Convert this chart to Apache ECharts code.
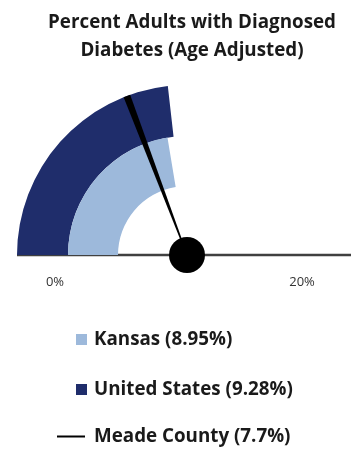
<!DOCTYPE html>
<html>
<head>
<meta charset="utf-8">
<script src="https://cdn.jsdelivr.net/npm/echarts@6/dist/echarts.min.js"></script>
<style>
html,body{margin:0;padding:0;background:#fff;}
#chart{width:351px;height:449px;}
</style>
</head>
<body>
<div id="chart"></div>
<script>
// ---- data ----
const titleLines = ['Percent Adults with Diagnosed', 'Diabetes (Age Adjusted)'];
const scaleMin = 0;
const scaleMax = 20;
const tickLabels = ['0%', '20%'];
const barNames = ['Kansas', 'United States'];
const barValues = [8.95, 9.28];
const barColors = ['#9DB9DB', '#1F2D6B'];
const needleName = 'Meade County';
const needleValue = 7.7;

const FONT = '"Open Sans", Lato, sans-serif';
const label = (n, v) => n + ' (' + v + '%)';

const chart = echarts.init(document.getElementById('chart'), null, {renderer: 'canvas'});

const center = [187, 255];
const hiddenGauge = {
  type: 'gauge', center: center, startAngle: 180, endAngle: 0,
  min: scaleMin, max: scaleMax,
  axisLine: {show: false}, axisTick: {show: false}, splitLine: {show: false},
  axisLabel: {show: false}, title: {show: false}, detail: {show: false},
  animation: false
};

const option = {
  animation: false,
  title: {
    text: titleLines.join('\n'),
    left: 187, top: 3, textAlign: 'center',
    textStyle: {fontFamily: FONT, fontSize: 18.8, fontWeight: 'bold', color: '#1a1a1a', lineHeight: 28.5}
  },
  grid: {left: 55, right: 49, top: 270, height: 1},
  xAxis: {
    type: 'value', min: scaleMin, max: scaleMax, interval: scaleMax - scaleMin,
    axisLine: {show: false}, axisTick: {show: false}, splitLine: {show: false},
    axisLabel: {
      margin: 5, fontFamily: FONT, fontSize: 13, color: '#333',
      formatter: v => tickLabels[v === scaleMin ? 0 : 1]
    }
  },
  yAxis: {type: 'value', show: false},
  legend: [
    {
      orient: 'vertical', left: 76, top: 330, padding: 0, itemWidth: 11, itemHeight: 11, itemGap: 31,
      selectedMode: false,
      textStyle: {fontFamily: FONT, fontSize: 18.8, fontWeight: 'bold', color: '#1a1a1a', padding: [0, 0, 0, 2]},
      data: barNames.map((n, i) => ({name: label(n, barValues[i]), icon: 'rect', itemStyle: {color: barColors[i]}}))
    },
    {
      orient: 'vertical', left: 57, top: 427, padding: 0, itemWidth: 28, itemHeight: 2,
      selectedMode: false,
      textStyle: {fontFamily: FONT, fontSize: 18.8, fontWeight: 'bold', color: '#1a1a1a', padding: [0, 0, 0, 4]},
      data: [{name: label(needleName, needleValue), icon: 'rect', itemStyle: {color: '#000'}}]
    }
  ],
  graphic: [{
    type: 'line', z: 1,
    shape: {x1: 17, y1: 255, x2: 351, y2: 255},
    style: {stroke: '#404040', lineWidth: 2.5}
  }],
  series: [
    Object.assign({}, hiddenGauge, {
      name: label(barNames[1], barValues[1]), radius: 170, z: 2,
      itemStyle: {color: barColors[1]},
      progress: {show: true, width: 51, itemStyle: {color: barColors[1]}},
      pointer: {show: false}, anchor: {show: false},
      data: [{value: barValues[1]}]
    }),
    Object.assign({}, hiddenGauge, {
      name: label(barNames[0], barValues[0]), radius: 119, z: 3,
      itemStyle: {color: barColors[0]},
      progress: {show: true, width: 50, itemStyle: {color: barColors[0]}},
      pointer: {show: false}, anchor: {show: false},
      data: [{value: barValues[0]}]
    }),
    Object.assign({}, hiddenGauge, {
      name: label(needleName, needleValue), radius: 170, z: 5,
      itemStyle: {color: '#000'},
      progress: {show: false},
      pointer: {
        show: true, icon: 'path://M0,0 L7,0 L4,170 L3,170 Z',
        length: '100%', width: 7, offsetCenter: [0, 0],
        itemStyle: {color: '#000'}
      },
      anchor: {show: true, showAbove: true, size: 36, itemStyle: {color: '#000'}},
      data: [{value: needleValue}]
    })
  ]
};
chart.setOption(option);
</script>
</body>
</html>
